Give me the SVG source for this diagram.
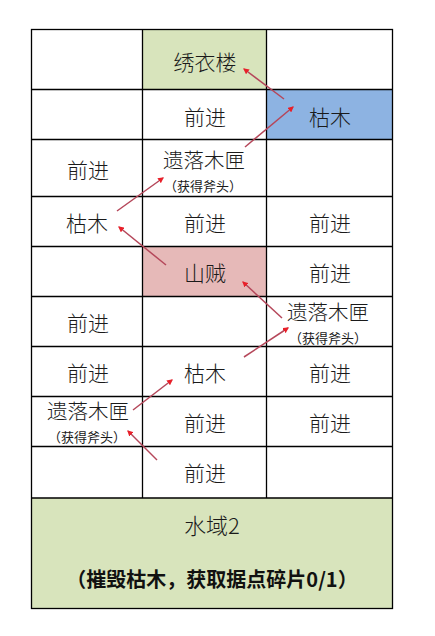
<svg xmlns="http://www.w3.org/2000/svg" width="435" height="636" viewBox="0 0 435 636">
<defs>
<style>
.t{font-family:"Noto Sans CJK SC","Noto Sans",sans-serif;font-size:21px;font-weight:300;fill:#1a1a1a;text-anchor:middle;dominant-baseline:central}
.m{font-family:"Noto Sans CJK SC","Noto Sans",sans-serif;font-size:20.5px;font-weight:300;fill:#1a1a1a;text-anchor:middle;dominant-baseline:central}
.s{font-family:"Noto Sans CJK SC","Noto Sans",sans-serif;font-size:13px;font-weight:normal;fill:#1a1a1a;text-anchor:middle;dominant-baseline:central}
.w{font-family:"Noto Sans CJK SC","Noto Sans",sans-serif;font-size:22px;font-weight:300;fill:#1a1a1a;text-anchor:middle;dominant-baseline:central}
.b{font-family:"Noto Sans CJK SC","Noto Sans",sans-serif;font-size:20px;font-weight:bold;fill:#111;text-anchor:middle;dominant-baseline:central}
.g{stroke:#000;stroke-width:1.3;fill:none}
.a{stroke:#b5475a;stroke-width:1.5;fill:none;marker-end:url(#ah)}
</style>
<marker id="ah" viewBox="0 0 10 10" refX="8" refY="5" markerWidth="6" markerHeight="6" orient="auto" markerUnits="userSpaceOnUse">
<path d="M0,0 L10,5 L0,10 z" fill="#e8202a"/>
</marker>
</defs>
<rect width="435" height="636" fill="#fff"/>
<g id="fills">
<rect x="142.5" y="29.5" width="124" height="60" fill="#d8e4bc"/>
<rect x="266.5" y="89.5" width="126" height="50" fill="#8db3e2"/>
<rect x="142.5" y="246.5" width="124" height="50" fill="#e6b9b8"/>
<rect x="31.5" y="498" width="361" height="110.5" fill="#d8e4bc"/>
</g>
<g id="grid" class="g">
<rect x="31.5" y="29.5" width="361" height="579"/>
<path d="M31.5 89.5H392.5M31.5 139.5H392.5M31.5 196.5H392.5M31.5 246.5H392.5M31.5 296.5H392.5M31.5 346.5H392.5M31.5 396.5H392.5M31.5 446.5H392.5M31.5 498H392.5"/>
<path d="M142.5 29.5V498M266.5 29.5V498"/>
</g>
<g id="n-xiuyilou"><text class="t" x="205" y="61">绣衣楼</text></g>
<g id="r2c2"><text class="t" x="205" y="116">前进</text></g>
<g id="n-kumu1"><text class="t" x="330" y="116">枯木</text></g>
<g id="r3c1"><text class="t" x="88" y="169">前进</text></g>
<g id="n-box1"><text class="m" x="204" y="159">遗落木匣</text><text class="s" x="203" y="185">（获得斧头）</text></g>
<g id="n-kumu2"><text class="t" x="87" y="222">枯木</text></g>
<g id="r4c2"><text class="t" x="205" y="222">前进</text></g>
<g id="r4c3"><text class="t" x="330" y="222">前进</text></g>
<g id="n-shanzei"><text class="t" x="205" y="272">山贼</text></g>
<g id="r5c3"><text class="t" x="330" y="272">前进</text></g>
<g id="r6c1"><text class="t" x="88" y="322">前进</text></g>
<g id="n-box2"><text class="m" x="328" y="311">遗落木匣</text><text class="s" x="328" y="337">（获得斧头）</text></g>
<g id="r7c1"><text class="t" x="88" y="372">前进</text></g>
<g id="n-kumu3"><text class="t" x="205" y="372">枯木</text></g>
<g id="r7c3"><text class="t" x="330" y="372">前进</text></g>
<g id="n-box3"><text class="m" x="88" y="410">遗落木匣</text><text class="s" x="87" y="436">（获得斧头）</text></g>
<g id="r8c2"><text class="t" x="205" y="422">前进</text></g>
<g id="r8c3"><text class="t" x="330" y="422">前进</text></g>
<g id="r9c2"><text class="t" x="205" y="472">前进</text></g>
<g id="n-shuiyu"><text class="w" x="212" y="524">水域2</text><text class="b" x="212" y="578">（摧毁枯木，获取据点碎片0/1）</text></g>
<g id="connectors">
<path class="a" d="M284 99L244 69"/>
<path class="a" d="M245 147L293 107"/>
<path class="a" d="M117 211L163 178"/>
<path class="a" d="M166 265L119 227"/>
<path class="a" d="M282 318L243 282"/>
<path class="a" d="M244 357L288 328"/>
<path class="a" d="M133 410L172 380"/>
<path class="a" d="M157 460L128 431"/>
</g>
</svg>
